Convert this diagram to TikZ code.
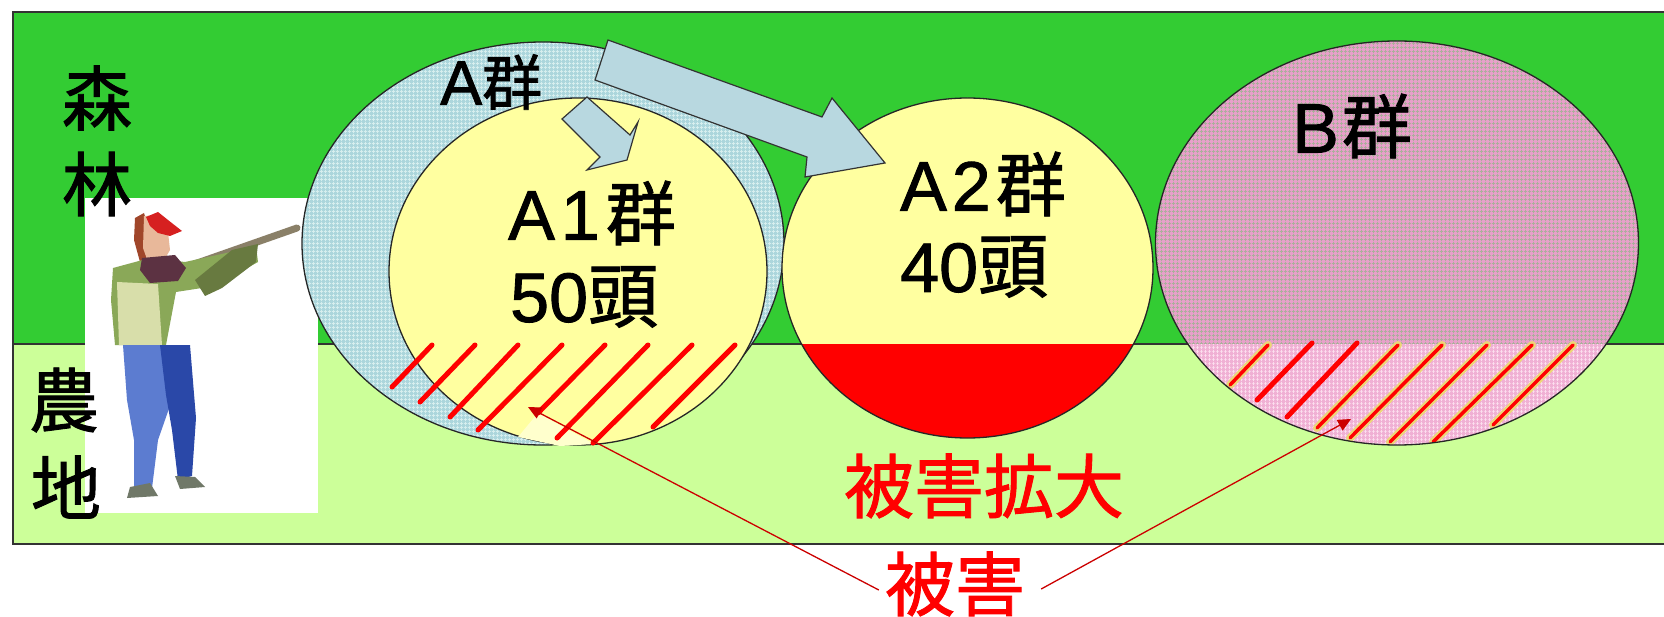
\documentclass[tikz,border=0pt]{standalone}
\usepackage{fontspec}
\setmainfont{Noto Sans CJK JP}[FakeBold=1.3]
\newfontfamily\latf{Liberation Sans}[FakeBold=1.3]
\usetikzlibrary{patterns,arrows.meta,calc}

% fine square grid used as a texture over the herd areas
\pgfdeclarepatternformonly{finegrid}{\pgfpointorigin}{\pgfpoint{4pt}{4pt}}{\pgfpoint{4pt}{4pt}}{%
  \pgfsetlinewidth{0.9pt}%
  \pgfpathmoveto{\pgfpoint{0pt}{2pt}}\pgfpathlineto{\pgfpoint{4pt}{2pt}}%
  \pgfpathmoveto{\pgfpoint{2pt}{0pt}}\pgfpathlineto{\pgfpoint{2pt}{4pt}}%
  \pgfusepath{stroke}}

\definecolor{cforest}{RGB}{51,204,51}
\definecolor{cfarm}{RGB}{204,255,153}
\definecolor{cablue}{RGB}{172,214,220}
\definecolor{cagrid}{RGB}{214,238,238}
\definecolor{carrow}{RGB}{184,216,224}
\definecolor{cpale}{RGB}{255,255,160}
\definecolor{cwedge}{RGB}{255,255,205}
\definecolor{cbpink}{RGB}{232,160,202}
\definecolor{cbgrid}{RGB}{172,174,156}
\definecolor{cbpinklow}{RGB}{240,176,212}
\definecolor{cbgridlow}{RGB}{252,222,238}
\definecolor{chalo}{RGB}{236,214,120}
\definecolor{cskin}{RGB}{232,184,154}
\definecolor{chair}{RGB}{160,70,42}
\definecolor{chat}{RGB}{214,32,32}
\definecolor{cscarf}{RGB}{92,50,66}
\definecolor{cjacket}{RGB}{138,168,88}
\definecolor{csleeve}{RGB}{104,122,64}
\definecolor{cvest}{RGB}{216,222,170}
\definecolor{clegA}{RGB}{92,124,208}
\definecolor{clegB}{RGB}{42,72,168}
\definecolor{cshoe}{RGB}{112,120,104}
\definecolor{crifle}{RGB}{138,128,104}

\begin{document}
\begin{tikzpicture}[x=1pt,y=-1pt,
  outline/.style={draw=black!85,line width=1.3pt},
  hatch/.style={draw=red,line width=5pt,line cap=round},
  halohatch/.style={draw=chalo,line width=8pt,line cap=round},
  kanji/.style={font=\fontsize{70pt}{70pt}\selectfont,inner sep=0pt},
  lbl/.style={kanji,anchor=west},
  redlbl/.style={kanji,text=red},
  callout/.style={draw=red!80!black,line width=1.3pt,-{Triangle[length=13pt,width=12pt]}},
  blockarrow/.style={fill=carrow,draw=black!80,line width=1.2pt,line join=miter}]

% canvas
\useasboundingbox (0,0) rectangle (1664,617);
\fill[white] (0,0) rectangle (1664,617);

% land use bands
\fill[cforest] (13,12) rectangle (1664,344);
\fill[cfarm] (13,344) rectangle (1664,544);
\draw[black!80,line width=1.5pt] (1664,12) -- (13,12) -- (13,544) -- (1664,544);
\draw[black!80,line width=1.2pt] (13,344) -- (1664,344);

% hunter picture
\fill[white] (85,198) rectangle (318,513);
\draw[crifle,line width=7pt,line cap=round] (183,268) -- (297,228);
\fill[chair] (135,218) -- (144,213) -- (148,226) -- (145,250) -- (150,262) -- (140,262) -- (134,240) -- cycle;
\fill[cskin] (144,216) -- (160,215) -- (168,232) -- (170,250) -- (163,262) -- (148,262) -- (143,248) -- cycle;
\fill[chat] (146,217) -- (158,212) -- (168,220) -- (182,231) -- (170,236) -- (158,233) -- (150,226) -- cycle;
\fill[cjacket] (113,268) -- (150,258) -- (185,262) -- (240,250) -- (256,246) -- (258,262) -- (215,286) -- (176,292) -- (166,345) -- (115,345) -- (111,300) -- cycle;
\fill[cvest] (117,282) -- (158,284) -- (162,345) -- (119,345) -- cycle;
\fill[csleeve] (195,280) -- (232,250) -- (258,244) -- (256,262) -- (222,288) -- (205,296) -- cycle;
\fill[cscarf] (142,258) -- (175,255) -- (186,268) -- (178,281) -- (150,283) -- (140,270) -- cycle;
\fill[clegA] (123,345) -- (166,345) -- (172,400) -- (158,440) -- (152,488) -- (134,490) -- (134,440) -- (127,400) -- cycle;
\fill[clegB] (160,345) -- (190,345) -- (196,418) -- (192,476) -- (178,480) -- (172,430) -- (166,395) -- cycle;
\fill[cshoe] (130,487) -- (150,483) -- (158,496) -- (127,498) -- cycle;
\fill[cshoe] (175,476) -- (195,477) -- (205,487) -- (180,489) -- cycle;

% herd A range
\fill[cablue] (543,243.5) ellipse [x radius=241pt,y radius=201.5pt];
\fill[pattern=finegrid,pattern color=cagrid] (543,243.5) ellipse [x radius=241pt,y radius=201.5pt];
\draw[outline] (543,243.5) ellipse [x radius=241pt,y radius=201.5pt];

% sub-herd A1
\fill[cpale] (578,271.5) ellipse [x radius=189pt,y radius=173.5pt];
\draw[outline] (578,271.5) ellipse [x radius=189pt,y radius=173.5pt];
\fill[cwedge] (518,437) -- (538,413) -- (594,444) -- (560,446) -- cycle;
\draw[hatch] (432,345) -- (392,387);
\draw[hatch] (475,345) -- (420,402);
\draw[hatch] (518,345) -- (450,417);
\draw[hatch] (562,345) -- (478,430);
\draw[hatch] (605,345) -- (538,413);
\draw[hatch] (648,345) -- (557,438);
\draw[hatch] (692,345) -- (593,443);
\draw[hatch] (735,345) -- (653,427);

% sub-herd A2
\begin{scope}
  \clip (967.5,268) ellipse [x radius=185.5pt,y radius=170pt];
  \fill[cpale] (760,80) rectangle (1170,460);
  \fill[red] (760,344) rectangle (1170,460);
\end{scope}
\draw[outline] (967.5,268) ellipse [x radius=185.5pt,y radius=170pt];

% herd B
\begin{scope}
  \clip (1397,243) ellipse [x radius=241.5pt,y radius=202pt];
  \fill[cbpink] (1150,30) rectangle (1650,344);
  \fill[pattern=finegrid,pattern color=cbgrid] (1150,30) rectangle (1650,344);
  \fill[cbpinklow] (1150,344) rectangle (1650,460);
  \fill[pattern=finegrid,pattern color=cbgridlow] (1150,344) rectangle (1650,460);
  \foreach \a/\b/\c/\d in {1268/345/1230/385,1398/345/1317/428,1442/345/1350/438,
      1487/345/1390/442,1532/345/1433/442,1573/345/1493/425}{
    \draw[halohatch] (\a,\b) -- (\c,\d);
    \draw[hatch,line width=3.5pt] (\a,\b) -- (\c,\d);}
  \draw[hatch] (1312,343) -- (1257,400);
  \draw[hatch] (1357,343) -- (1287,417);
\end{scope}
\draw[outline] (1397,243) ellipse [x radius=241.5pt,y radius=202pt];

% movement arrows
\draw[blockarrow] (608,40) -- (822,117) -- (832,98) -- (885,163) -- (805,177) -- (807,157) -- (595,80) -- cycle;
\draw[blockarrow] (587,97) -- (630,135) -- (638,122) -- (627,160) -- (587,170) -- (600,157) -- (562,119) -- cycle;

% labels
\node[kanji] (mori) at (97,98) {森};
\node[kanji] (hayashi) at (97,184) {林};
\node[kanji] (nou) at (64,400) {農};
\node[kanji] (chi) at (66,487) {地};
\node[lbl,font=\fontsize{60pt}{60pt}\selectfont] (agun) at (440,82) {{\latf\fontsize{63pt}{63pt}\selectfont A}群};
\node[lbl] (a1) at (508,213) {{\latf A\kern6pt1\kern6pt}群};
\node[lbl] (a1n) at (510,297) {{\latf 50}頭};
\node[lbl] (a2) at (900,184) {{\latf A\kern5pt2\kern5pt}群};
\node[lbl] (a2n) at (900,267) {{\latf 40}頭};
\node[lbl] (bgun) at (1292,126) {{\latf B\kern3pt}群};
\node[redlbl] (kakudai) at (984,486) {被害拡大};
\node[redlbl] (higai) at (955,584) {被害};

% damage callouts
\coordinate (tipA) at (528,407);
\coordinate (tipB) at (1351,419);
\draw[callout] ($(higai.west)+(-6,6)$) -- (tipA);
\draw[callout] ($(higai.east)+(16,5)$) -- (tipB);
\end{tikzpicture}
\end{document}
